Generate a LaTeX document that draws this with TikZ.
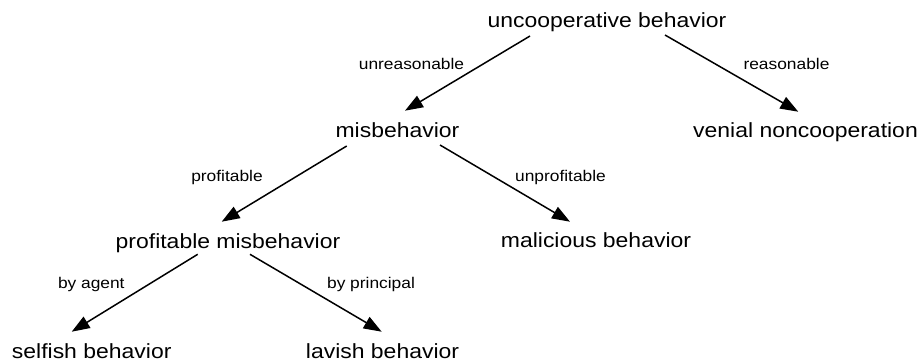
\documentclass[tikz,border=0pt]{standalone}
\usepackage{fontspec}
\setmainfont{Liberation Sans}[FakeStretch=1.12]
\usetikzlibrary{arrows.meta}
\begin{document}
\begin{tikzpicture}[x=1pt,y=-1pt,
  concept/.style={anchor=base,inner sep=0pt,font=\fontsize{20.5}{24}\selectfont},
  edgelabel/.style={anchor=base,inner sep=0pt,font=\fontsize{15.5}{18}\selectfont},
  arr/.style={line width=1.5pt,-{Triangle[length=18pt,width=13pt]}}]
\useasboundingbox (0,0) rectangle (922,360);
\node[concept] (u) at (607,27) {uncooperative behavior};
\node[concept] (m) at (397.5,137) {misbehavior};
\node[concept] (v) at (805.5,137) {venial noncooperation};
\node[concept] (p) at (228,248) {profitable misbehavior};
\node[concept] (mal) at (596,247) {malicious behavior};
\node[concept] (s) at (91.7,358) {selfish behavior};
\node[concept] (l) at (382.5,358) {lavish behavior};
\node[edgelabel] (l1) at (411.5,69) {unreasonable};
\node[edgelabel] (l2) at (786.5,69) {reasonable};
\node[edgelabel] (l3) at (227,181) {profitable};
\node[edgelabel] (l4) at (560.5,181) {unprofitable};
\node[edgelabel] (l5) at (91.3,288) {by agent};
\node[edgelabel] (l6) at (371,288) {by principal};
\draw[arr] ([shift={(-77,9)}]u.base) -- ([shift={(7.5,-26.3)}]m.base);
\draw[arr] ([shift={(58,8)}]u.base) -- ([shift={(-7.2,-25.3)}]v.base);
\draw[arr] ([shift={(-50.8,9)}]m.base) -- ([shift={(-6.3,-26.3)}]p.base);
\draw[arr] ([shift={(42.5,8)}]m.base) -- ([shift={(-26,-25.3)}]mal.base);
\draw[arr] ([shift={(-30.3,6.3)}]p.base) -- ([shift={(-20,-26.3)}]s.base);
\draw[arr] ([shift={(22,6.3)}]p.base) -- ([shift={(-0.8,-26.3)}]l.base);
\end{tikzpicture}
\end{document}
